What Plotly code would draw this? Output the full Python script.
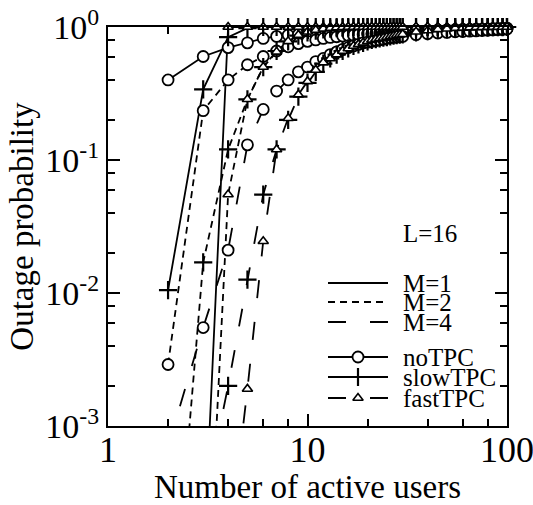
import plotly.graph_objects as go

# ---------------- data ----------------
K = [2, 3, 4, 5, 6, 7, 8, 9, 10, 11, 12, 13, 14, 15, 16, 17, 18, 19, 20, 21, 22, 23, 24, 25, 26, 27, 28, 29, 30,
     35, 40, 45, 50, 55, 60, 65, 70, 75, 80, 85, 90, 95, 100]

noTPC_M1 = [0.40, 0.60, 0.70, 0.76, 0.82, 0.85, 0.87, 0.88, 0.89, 0.895, 0.90, 0.905, 0.91, 0.912, 0.914, 0.916,
            0.918, 0.92, 0.922, 0.924, 0.926, 0.928, 0.93, 0.932, 0.934, 0.936, 0.938, 0.94, 0.942,
            0.945, 0.948, 0.95, 0.952, 0.955, 0.958, 0.96, 0.962, 0.965, 0.968, 0.97, 0.972, 0.975, 0.978]
noTPC_M2 = [0.0029, 0.235, 0.40, 0.52, 0.60, 0.66, 0.71, 0.75, 0.78, 0.80, 0.82, 0.835, 0.845, 0.855, 0.862, 0.868,
            0.874, 0.88, 0.885, 0.89, 0.894, 0.898, 0.902, 0.906, 0.91, 0.913, 0.916, 0.919, 0.922,
            0.93, 0.936, 0.94, 0.944, 0.948, 0.952, 0.955, 0.958, 0.961, 0.964, 0.967, 0.97, 0.973, 0.976]
noTPC_M4 = [0.0007, 0.0055, 0.021, 0.13, 0.24, 0.33, 0.40, 0.46, 0.50, 0.55, 0.58, 0.62, 0.65, 0.68, 0.70, 0.72,
            0.74, 0.76, 0.77, 0.78, 0.79, 0.80, 0.81, 0.82, 0.83, 0.835, 0.84, 0.845, 0.85,
            0.875, 0.89, 0.90, 0.91, 0.92, 0.925, 0.93, 0.935, 0.94, 0.945, 0.95, 0.955, 0.96, 0.965]

slowTPC_M1 = [0.0105, 0.34, 0.84, 0.98, 1.0, 1.0, 1.0, 1.0, 1.0, 1.0, 1.0, 1.0, 1.0, 1.0, 1.0, 1.0,
              1.0, 1.0, 1.0, 1.0, 1.0, 1.0, 1.0, 1.0, 1.0, 1.0, 1.0, 1.0, 1.0,
              1.0, 1.0, 1.0, 1.0, 1.0, 1.0, 1.0, 1.0, 1.0, 1.0, 1.0, 1.0, 1.0, 1.0]
slowTPC_M2 = [1.2e-5, 0.017, 0.12, 0.286, 0.50, 0.66, 0.78, 0.86, 0.91, 0.94, 0.96, 0.97, 0.98, 0.985, 0.99, 0.993,
              0.995, 0.997, 0.998, 1.0, 1.0, 1.0, 1.0, 1.0, 1.0, 1.0, 1.0, 1.0, 1.0,
              1.0, 1.0, 1.0, 1.0, 1.0, 1.0, 1.0, 1.0, 1.0, 1.0, 1.0, 1.0, 1.0, 1.0]
slowTPC_M4 = [1e-6, 2.4e-4, 0.002, 0.0126, 0.055, 0.12, 0.20, 0.30, 0.38, 0.46, 0.53, 0.58, 0.62, 0.66, 0.69, 0.72,
              0.74, 0.76, 0.78, 0.80, 0.81, 0.82, 0.83, 0.84, 0.85, 0.86, 0.87, 0.875, 0.88,
              0.91, 0.93, 0.95, 0.96, 0.97, 0.98, 0.985, 0.99, 0.993, 0.995, 0.997, 0.998, 0.999, 1.0]

fastTPC_M1 = [1e-7, 8.5e-5, 1.0, 1.0, 1.0, 1.0, 1.0, 1.0, 1.0, 1.0, 1.0, 1.0, 1.0, 1.0, 1.0, 1.0,
              1.0, 1.0, 1.0, 1.0, 1.0, 1.0, 1.0, 1.0, 1.0, 1.0, 1.0, 1.0, 1.0,
              1.0, 1.0, 1.0, 1.0, 1.0, 1.0, 1.0, 1.0, 1.0, 1.0, 1.0, 1.0, 1.0, 1.0]
fastTPC_M2 = [1e-8, 1e-5, 0.055, 0.286, 0.50, 0.65, 0.78, 0.87, 0.92, 0.95, 0.97, 0.98, 0.99, 0.995, 1.0, 1.0,
              1.0, 1.0, 1.0, 1.0, 1.0, 1.0, 1.0, 1.0, 1.0, 1.0, 1.0, 1.0, 1.0,
              1.0, 1.0, 1.0, 1.0, 1.0, 1.0, 1.0, 1.0, 1.0, 1.0, 1.0, 1.0, 1.0, 1.0]
fastTPC_M4 = [1e-8, 1e-6, 1.07e-4, 0.0019, 0.0245, 0.12, 0.206, 0.31, 0.39, 0.475, 0.54, 0.58, 0.62, 0.66, 0.69, 0.72,
              0.74, 0.76, 0.78, 0.80, 0.81, 0.82, 0.83, 0.84, 0.85, 0.86, 0.87, 0.875, 0.88,
              0.92, 0.94, 0.96, 0.97, 0.98, 0.985, 0.99, 0.993, 0.995, 0.997, 0.998, 0.999, 1.0, 1.0]

y_tickvals = [0.001, 0.01, 0.1, 1]
y_ticktext = ["10<sup>-3</sup>", "10<sup>-2</sup>", "10<sup>-1</sup>", "10<sup>0</sup>"]
x_tickvals = [1, 10, 100]
x_ticktext = ["1", "10", "100"]

M_labels = ["M=1", "M=2", "M=4"]
TPC_labels = ["noTPC", "slowTPC", "fastTPC"]
annotation_text = "L=16"

# ---------------- styles ----------------
FONT = "Liberation Serif, Times New Roman, serif"
dash_by_M = {"M=1": "solid", "M=2": "7px,5px", "M=4": "18px,24px"}
marker_by_tpc = {
    "noTPC": dict(symbol="circle", size=11, color="white", line=dict(color="black", width=1.8)),
    "slowTPC": dict(symbol="cross-thin-open", size=13, color="black", line=dict(color="black", width=2.2)),
    "fastTPC": dict(symbol="triangle-up", size=9, color="white", line=dict(color="black", width=1.6)),
}

series = [
    ("noTPC", "M=1", noTPC_M1), ("noTPC", "M=2", noTPC_M2), ("noTPC", "M=4", noTPC_M4),
    ("slowTPC", "M=1", slowTPC_M1), ("slowTPC", "M=2", slowTPC_M2), ("slowTPC", "M=4", slowTPC_M4),
    ("fastTPC", "M=1", fastTPC_M1), ("fastTPC", "M=2", fastTPC_M2), ("fastTPC", "M=4", fastTPC_M4),
]

fig = go.Figure()
YMIN = 1e-3
for tpc, m, vals in series:
    fig.add_trace(go.Scatter(x=K, y=vals, mode="lines",
                             line=dict(color="black", width=1.8, dash=dash_by_M[m]),
                             showlegend=False, hoverinfo="skip"))
for tpc, m, vals in series:
    kk = [k for k, v in zip(K, vals) if v >= YMIN]
    vv = [v for v in vals if v >= YMIN]
    fig.add_trace(go.Scatter(x=kk, y=vv, mode="markers", marker=marker_by_tpc[tpc],
                             cliponaxis=False, showlegend=False))

# ---------------- custom legend (overlay axes in plot fraction) ----------------
# plot area: x 108..507 px, y 27..426 px
def fx(px):
    return (px - 108) / 399.0

def fy(py):
    return (426 - py) / 399.0

x0, x1 = fx(328), fx(388)
xm = fx(358)
leg_m_y = [283, 302, 322]
for lab, py in zip(M_labels, leg_m_y):
    fig.add_trace(go.Scatter(x=[x0, x1], y=[fy(py), fy(py)], mode="lines", xaxis="x2", yaxis="y2",
                             line=dict(color="black", width=1.8, dash=dash_by_M[lab]),
                             showlegend=False, hoverinfo="skip"))
leg_t_y = [357, 377, 398]
leg_t_dash = {"noTPC": "solid", "slowTPC": "solid", "fastTPC": dash_by_M["M=4"]}
for lab, py in zip(TPC_labels, leg_t_y):
    fig.add_trace(go.Scatter(x=[x0, x1], y=[fy(py), fy(py)], mode="lines", xaxis="x2", yaxis="y2",
                             line=dict(color="black", width=1.8, dash=leg_t_dash[lab]),
                             showlegend=False, hoverinfo="skip"))
    fig.add_trace(go.Scatter(x=[xm], y=[fy(py)], mode="markers", xaxis="x2", yaxis="y2",
                             marker=marker_by_tpc[lab], showlegend=False, hoverinfo="skip"))

annotations = []
for lab, py in zip(M_labels + TPC_labels, leg_m_y + leg_t_y):
    annotations.append(dict(x=fx(401), y=fy(py), xref="paper", yref="paper", text=lab, showarrow=False,
                            xanchor="left", yanchor="middle", font=dict(family=FONT, size=25, color="black")))
annotations.append(dict(x=fx(401), y=fy(233), xref="paper", yref="paper", text=annotation_text, showarrow=False,
                        xanchor="left", yanchor="middle", font=dict(family=FONT, size=25, color="black")))

minor_x = [2, 4, 6, 8, 20, 40, 60, 80]
minor_y = [0.002, 0.004, 0.006, 0.008, 0.02, 0.04, 0.06, 0.08, 0.2, 0.4, 0.6, 0.8]

fig.update_layout(
    width=533, height=505,
    margin=dict(l=108, r=26, t=27, b=79, autoexpand=False),
    paper_bgcolor="white", plot_bgcolor="white",
    font=dict(family=FONT, color="black"),
    showlegend=False,
    annotations=annotations,
    xaxis=dict(type="log", range=[0, 2], tickmode="array", tickvals=x_tickvals, ticktext=x_ticktext,
               ticks="inside", ticklen=12, tickwidth=2, tickcolor="black",
               showline=True, linecolor="black", linewidth=2, mirror="allticks",
               showgrid=False, zeroline=False, automargin=False,
               ticklabeloverflow="allow", ticklabelstandoff=-9,
               tickfont=dict(family=FONT, size=36, color="black"),
               minor=dict(tickmode="array", tickvals=minor_x, ticks="inside", ticklen=7, tickwidth=1.5,
                          tickcolor="black", showgrid=False),
               title=dict(text="Number of active users", font=dict(family=FONT, size=33, color="black"),
                          standoff=4)),
    yaxis=dict(type="log", range=[-3, 0], tickmode="array", tickvals=y_tickvals, ticktext=y_ticktext,
               ticks="inside", ticklen=12, tickwidth=2, tickcolor="black",
               showline=True, linecolor="black", linewidth=2, mirror="allticks",
               showgrid=False, zeroline=False, automargin=False,
               ticklabeloverflow="allow",
               tickfont=dict(family=FONT, size=34, color="black"),
               minor=dict(tickmode="array", tickvals=minor_y, ticks="inside", ticklen=7, tickwidth=1.5,
                          tickcolor="black", showgrid=False),
               title=dict(text="Outage probability", font=dict(family=FONT, size=33, color="black"),
                          standoff=2)),
    xaxis2=dict(overlaying="x", range=[0, 1], visible=False, fixedrange=True),
    yaxis2=dict(overlaying="y", range=[0, 1], visible=False, fixedrange=True),
)

fig.write_html("out.html")
